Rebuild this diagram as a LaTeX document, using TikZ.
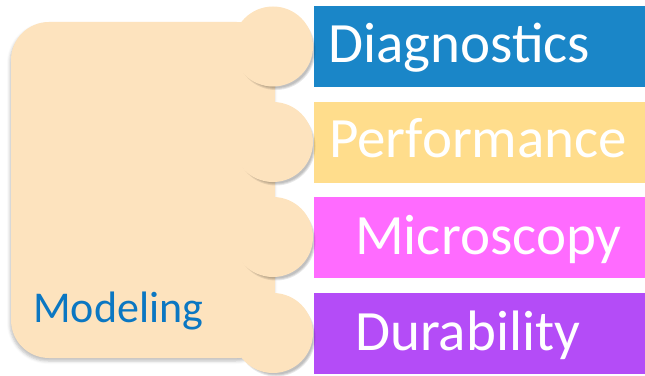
\documentclass[tikz,border=0pt]{standalone}
\usepackage{fontspec}
\setmainfont{Carlito}
\usetikzlibrary{shadows,shadows.blur}
\definecolor{peach}{HTML}{FDE3BE}
\definecolor{cblue}{HTML}{1A86C8}
\definecolor{cyellow}{HTML}{FFDD8C}
\definecolor{cpink}{HTML}{FF6BFF}
\definecolor{cpurple}{HTML}{B44CF7}
\definecolor{tblue}{HTML}{0B77C2}
\tikzset{
  base/.style={draw=none, inner sep=0pt, outer sep=0pt},
  bigbox/.style={base, fill=peach, rounded corners=38pt,
    blur shadow={shadow xshift=-1pt, shadow yshift=-3pt, shadow blur radius=3pt, shadow opacity=25}},
  knob/.style={base, circle, fill=peach, minimum size=80pt},
  softshade/.style={fill=black, opacity=0.09, draw=none},
  bar/.style={base, rectangle, minimum width=331pt, minimum height=81pt, anchor=north west},
  bartext/.style={anchor=base west, inner sep=0pt, text=white, font=\fontsize{57}{60}\selectfont},
  modtext/.style={anchor=base west, inner sep=0pt, text=tblue, font=\fontsize{44}{48}\selectfont}
}
\begin{document}
\begin{tikzpicture}[x=1pt,y=1pt]
\useasboundingbox (0,0) rectangle (645,375);
\node[bigbox, minimum width=264pt, minimum height=336pt, anchor=north west] (model) at (11,353) {};
\node[bar, fill=cblue] (b1) at (314,369) {};
\node[bar, fill=cyellow] (b2) at (314,273) {};
\node[bar, fill=cpink] (b3) at (314,178) {};
\node[bar, fill=cpurple] (b4) at (314,82) {};
\foreach \yy [count=\i] in {328.5,233,138,42}{
  \coordinate (s\i) at (276,\yy-4);
  \foreach \r in {37.5,38.5,39.5}{
    \fill[softshade] (s\i) circle (\r);
  }
}
\node[knob] (c1) at (273,328.5) {};
\node[knob] (c2) at (273,233) {};
\node[knob] (c3) at (273,138) {};
\node[knob] (c4) at (273,42) {};
\node[modtext] (tm) at (33,53) {Modeling};
\node[bartext] (t1) at (328,312) {Diagnostics};
\node[bartext] (t2) at (329,217) {Performance};
\node[bartext] (t3) at (355,120) {Microscopy};
\node[bartext] (t4) at (355,25) {Durability};
\end{tikzpicture}
\end{document}
